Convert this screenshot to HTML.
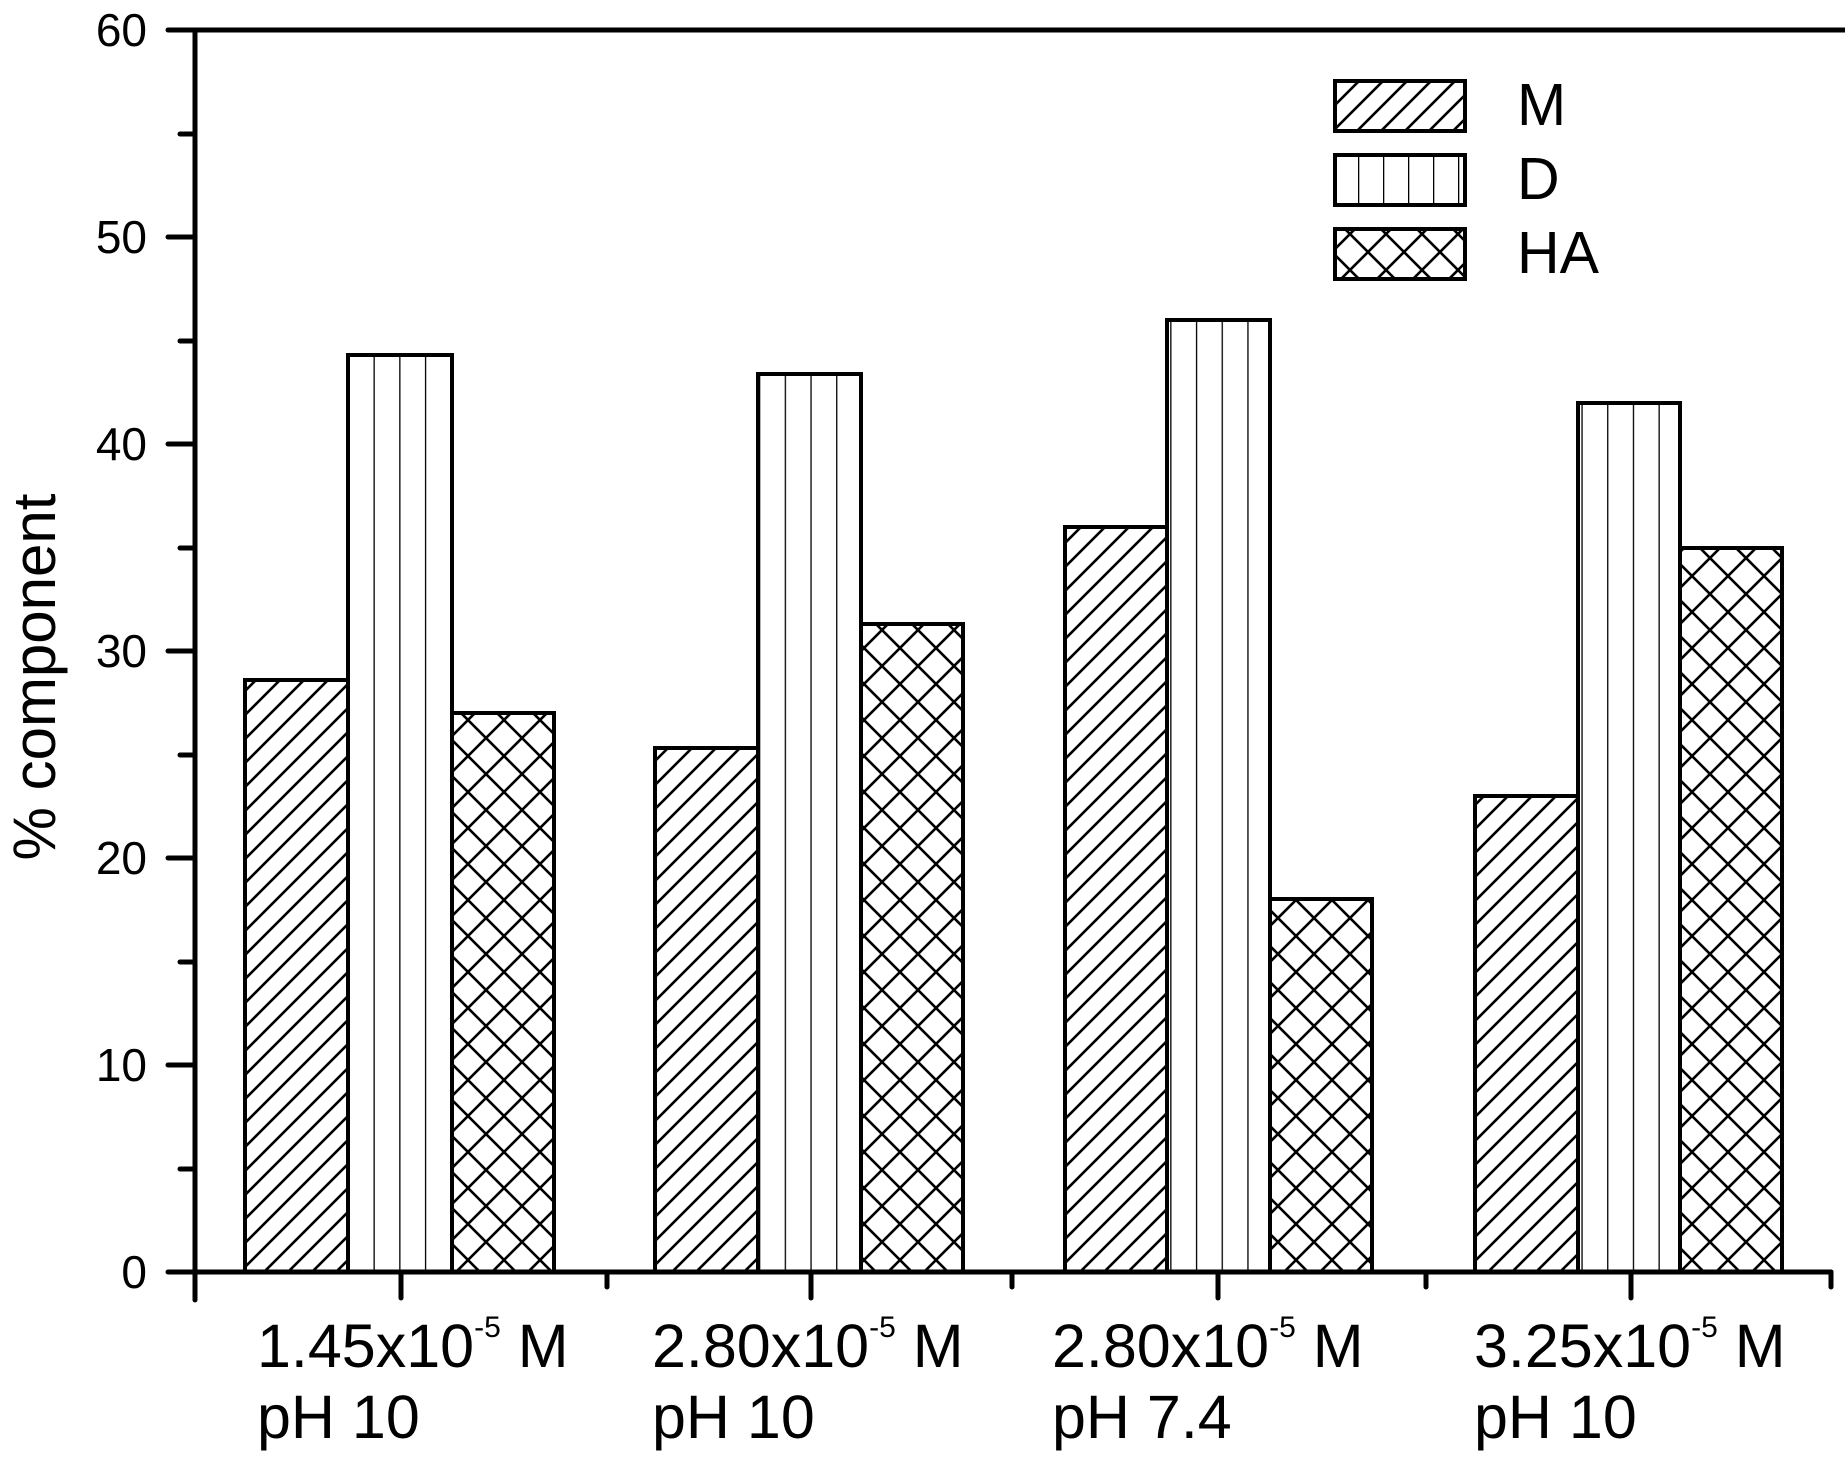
<!DOCTYPE html>
<html><head><meta charset="utf-8"><style>html,body{margin:0;padding:0;background:#fff}svg{display:block}</style></head>
<body>
<svg width="1845" height="1470" viewBox="0 0 1845 1470" xmlns="http://www.w3.org/2000/svg" font-family="Liberation Sans, Arial, sans-serif">
<defs>
<pattern id="pm" patternUnits="userSpaceOnUse" width="24" height="24">
<path d="M0,24 L24,0 M-6,6 L6,-6 M18,30 L30,18" stroke="#000" stroke-width="2.6"/>
</pattern>
<pattern id="pd" patternUnits="userSpaceOnUse" width="25.7" height="20" x="245">
<path d="M0,0 V20" stroke="#000" stroke-width="2.6"/>
</pattern>
<pattern id="ph" patternUnits="userSpaceOnUse" width="36" height="36">
<path d="M-4,-4 L40,40 M40,-4 L-4,40" stroke="#000" stroke-width="2.6"/>
</pattern>
<pattern id="pd2" patternUnits="userSpaceOnUse" width="25" height="20" x="1333">
<path d="M0,0 V20" stroke="#000" stroke-width="2.6"/>
</pattern>
</defs>
<rect width="1845" height="1470" fill="#fff"/>
<g stroke="#000" stroke-width="4">
<rect x="245" y="680" width="103" height="592" fill="url(#pm)"/>
<rect x="348" y="355" width="104" height="917" fill="url(#pd)"/>
<rect x="452" y="713" width="102" height="559" fill="url(#ph)"/>
<rect x="655" y="748" width="103" height="524" fill="url(#pm)"/>
<rect x="758" y="374" width="103" height="898" fill="url(#pd)"/>
<rect x="861" y="624" width="102" height="648" fill="url(#ph)"/>
<rect x="1065" y="527" width="102" height="745" fill="url(#pm)"/>
<rect x="1167" y="320" width="103" height="952" fill="url(#pd)"/>
<rect x="1270" y="899" width="102" height="373" fill="url(#ph)"/>
<rect x="1475" y="796" width="103" height="476" fill="url(#pm)"/>
<rect x="1578" y="403" width="102" height="869" fill="url(#pd)"/>
<rect x="1680" y="548" width="102" height="724" fill="url(#ph)"/>
</g>
<g stroke="#000" stroke-width="5" stroke-linecap="round">
<line x1="195" y1="30" x2="195" y2="1300"/>
<line x1="168" y1="30" x2="1845" y2="30"/>
<line x1="168" y1="1272" x2="1831" y2="1272"/>
<line x1="1831" y1="1272" x2="1831" y2="1287"/>
<line x1="168" y1="237" x2="195" y2="237"/>
<line x1="168" y1="444" x2="195" y2="444"/>
<line x1="168" y1="651" x2="195" y2="651"/>
<line x1="168" y1="858" x2="195" y2="858"/>
<line x1="168" y1="1065" x2="195" y2="1065"/>
<line x1="180" y1="134" x2="195" y2="134"/>
<line x1="180" y1="341" x2="195" y2="341"/>
<line x1="180" y1="548" x2="195" y2="548"/>
<line x1="180" y1="755" x2="195" y2="755"/>
<line x1="180" y1="962" x2="195" y2="962"/>
<line x1="180" y1="1169" x2="195" y2="1169"/>
<line x1="401" y1="1272" x2="401" y2="1298"/>
<line x1="811" y1="1272" x2="811" y2="1298"/>
<line x1="1218" y1="1272" x2="1218" y2="1298"/>
<line x1="1631" y1="1272" x2="1631" y2="1298"/>
<line x1="607" y1="1272" x2="607" y2="1287"/>
<line x1="1012" y1="1272" x2="1012" y2="1287"/>
<line x1="1426" y1="1272" x2="1426" y2="1287"/>
</g>
<g font-size="46" text-anchor="end" fill="#000">
<text x="147" y="46">60</text>
<text x="147" y="253">50</text>
<text x="147" y="460">40</text>
<text x="147" y="667">30</text>
<text x="147" y="874">20</text>
<text x="147" y="1081">10</text>
<text x="147" y="1288">0</text>
</g>
<text transform="translate(55,677) rotate(-90)" font-size="60" text-anchor="middle">% component</text>
<g font-size="61" fill="#000">
<text x="257" y="1367">1.45x10<tspan font-size="30" dy="-30">-5</tspan><tspan dy="30"> M</tspan></text>
<text x="257" y="1438">pH 10</text>
<text x="652" y="1367">2.80x10<tspan font-size="30" dy="-30">-5</tspan><tspan dy="30"> M</tspan></text>
<text x="652" y="1438">pH 10</text>
<text x="1052" y="1367">2.80x10<tspan font-size="30" dy="-30">-5</tspan><tspan dy="30"> M</tspan></text>
<text x="1052" y="1438">pH 7.4</text>
<text x="1474" y="1367">3.25x10<tspan font-size="30" dy="-30">-5</tspan><tspan dy="30"> M</tspan></text>
<text x="1474" y="1438">pH 10</text>
</g>
<g stroke="#000" stroke-width="4">
<rect x="1335" y="81" width="130" height="50" fill="url(#pm)"/>
<rect x="1335" y="155" width="130" height="50" fill="url(#pd2)"/>
<rect x="1335" y="229" width="130" height="50" fill="url(#ph)"/>
</g>
<g font-size="59" fill="#000">
<text x="1517" y="125">M</text>
<text x="1517" y="199">D</text>
<text x="1517" y="273">HA</text>
</g>
</svg>
</body></html>
